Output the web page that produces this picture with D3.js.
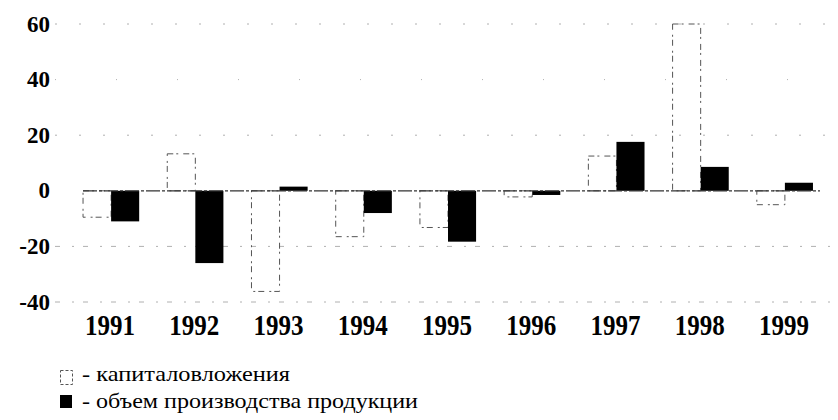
<!DOCTYPE html>
<html>
<head>
<meta charset="utf-8">
<script src="https://cdn.jsdelivr.net/npm/d3@7"></script>
<style>
    body { margin: 0; background: #fff; }
    svg { display: block; }
</style>
</head>
<body>
<div id="chart"></div>
<script>
// chart data
const years = ['1991', '1992', '1993', '1994', '1995', '1996', '1997', '1998', '1999'];
const capital = [-9.5, 13.3, -36.2, -16.5, -13.2, -2.2, 12.5, 60, -5];
const output = [-11, -26, 1.5, -8, -18.3, -1.5, 17.6, 8.6, 2.9];
const yTicks = [60, 40, 20, 0, -20, -40];
const seriesNames = ['капиталовложения', 'объем производства продукции'];

const width = 838, height = 420;
const serif = '"Liberation Serif"';

const svg = d3.select('#chart')
    .append('svg')
    .attr('width', width)
    .attr('height', height);

const y = d3.scaleLinear()
    .domain([-40, 60])
    .range([302, 24]);

const x0 = d3.scaleBand()
    .domain(years)
    .range([69, 827])
    .paddingInner(1 / 3)
    .paddingOuter(1 / 6);

const x1 = d3.scaleBand()
    .domain(['capital', 'output'])
    .range([0, x0.bandwidth()]);

// faint broken gridlines (scanned look)
svg.append('g')
    .selectAll('line')
    .data(yTicks.filter(d => d !== 0))
    .enter()
    .append('line')
    .attr('x1', 55)
    .attr('x2', 836)
    .attr('y1', d => y(d))
    .attr('y2', d => y(d))
    .attr('stroke', '#b0b0b0')
    .attr('stroke-width', 1)
    .attr('stroke-dasharray', d => d === 40 ? '1,60' : (d < 0 ? '5,12,2,9' : '2,22'));

// y labels, drawn as plain text at the scale's positions
svg.append('g')
    .selectAll('text')
    .data(yTicks)
    .enter()
    .append('text')
    .attr('x', 50)
    .attr('y', d => y(d))
    .attr('dy', '0.33em')
    .attr('text-anchor', 'end')
    .style('font-family', serif)
    .style('font-weight', 'bold')
    .style('font-size', '23px')
    .text(d => d);

const groups = svg.append('g')
    .selectAll('g')
    .data(years.map((yr, i) => ({ year: yr, capital: capital[i], output: output[i] })))
    .enter()
    .append('g')
    .attr('transform', d => `translate(${x0(d.year)},0)`);

// capital investment: hollow, thin broken outline
groups.append('rect')
    .attr('x', x1('capital'))
    .attr('width', x1.bandwidth())
    .attr('y', d => y(Math.max(0, d.capital)))
    .attr('height', d => Math.abs(y(d.capital) - y(0)))
    .attr('fill', 'none')
    .attr('stroke', '#555')
    .attr('stroke-width', 1)
    .attr('stroke-dasharray', '6,3,2,5');

// production volume: solid black
groups.append('rect')
    .attr('x', x1('output'))
    .attr('width', x1.bandwidth())
    .attr('y', d => y(Math.max(0, d.output)))
    .attr('height', d => Math.abs(y(d.output) - y(0)))
    .attr('fill', '#000');

// zero line
svg.append('line')
    .attr('x1', x0.range()[0] + 14)
    .attr('x2', 820)
    .attr('y1', y(0))
    .attr('y2', y(0))
    .attr('stroke', '#333')
    .attr('stroke-width', 1.2)
    .attr('stroke-dasharray', '14,2,3,2');

// year labels
svg.append('g')
    .selectAll('text')
    .data(years)
    .enter()
    .append('text')
    .attr('x', d => x0(d) + x0.bandwidth() / 2 - 1)
    .attr('y', 335)
    .attr('text-anchor', 'middle')
    .style('font-family', serif)
    .style('font-weight', 'bold')
    .style('font-size', '29px')
    .attr('textLength', 50)
    .attr('lengthAdjust', 'spacingAndGlyphs')
    .text(d => d);

// legend
const legend = svg.append('g');
legend.append('rect')
    .attr('x', 60.5).attr('y', 370.5)
    .attr('width', 12).attr('height', 14)
    .attr('fill', 'none')
    .attr('stroke', '#555')
    .attr('stroke-width', 1)
    .attr('stroke-dasharray', '3,2');
legend.append('rect')
    .attr('x', 60).attr('y', 395)
    .attr('width', 12).attr('height', 13)
    .attr('fill', '#000');

const legendWidths = [208, 336];
legend.selectAll('text')
    .data(seriesNames)
    .enter()
    .append('text')
    .attr('x', 82)
    .attr('y', (d, i) => 381 + i * 27)
    .style('font-family', serif)
    .style('font-size', '22px')
    .attr('textLength', (d, i) => legendWidths[i])
    .attr('lengthAdjust', 'spacingAndGlyphs')
    .text(d => '- ' + d);
</script>
</body>
</html>
